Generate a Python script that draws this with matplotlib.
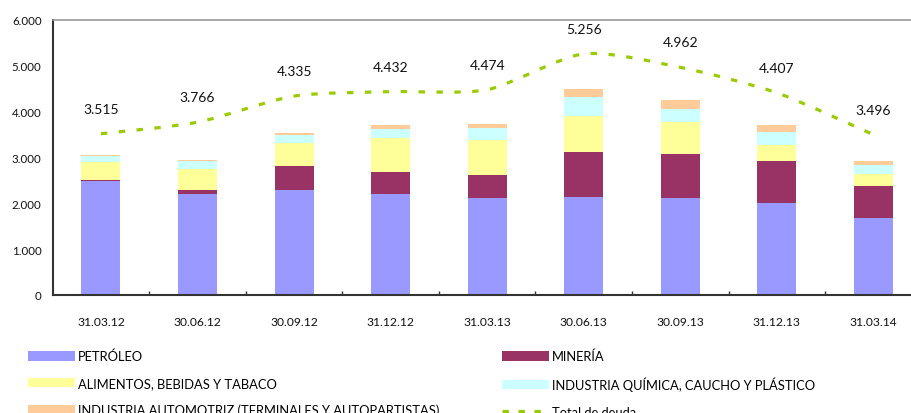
import matplotlib
matplotlib.use("Agg")
import matplotlib.pyplot as plt
from matplotlib.path import Path
from matplotlib.patches import PathPatch, Patch
from matplotlib.lines import Line2D
from matplotlib.ticker import FuncFormatter, FixedLocator
import numpy as np

plt.rcParams['font.family'] = ['Lato', 'DejaVu Sans']

categories = ["31.03.12", "30.06.12", "30.09.12", "31.12.12", "31.03.13",
              "30.06.13", "30.09.13", "31.12.13", "31.03.14"]
petroleo   = [2485, 2196, 2283, 2196, 2109, 2130, 2109, 2000, 1674]
mineria    = [15, 87, 521, 478, 500, 979, 956, 913, 696]
alimentos  = [391, 463, 508, 739, 761, 782, 696, 355, 260]
quimica    = [140, 167, 174, 203, 260, 421, 290, 283, 203]
automotriz = [20, 22, 36, 87, 87, 174, 195, 152, 80]
total      = [3515, 3766, 4335, 4432, 4474, 5256, 4962, 4407, 3496]

series = [
    ("PETRÓLEO", petroleo, "#9999FF"),
    ("MINERÍA", mineria, "#993366"),
    ("ALIMENTOS, BEBIDAS Y TABACO", alimentos, "#FFFF99"),
    ("INDUSTRIA QUÍMICA, CAUCHO Y PLÁSTICO", quimica, "#CCFFFF"),
    ("INDUSTRIA AUTOMOTRIZ (TERMINALES Y AUTOPARTISTAS)", automotriz, "#FFCC99"),
]
line_label = "Total de deuda"
line_color = "#99CC00"

W, H = 912, 414
fig = plt.figure(figsize=(W / 100, H / 100), dpi=100)
ax = fig.add_axes([52.7 / W, (H - 296) / H, (921.6 - 52.7) / W, (296 - 20.7) / H])

x = np.arange(len(categories))
bottom = np.zeros(len(categories))
handles = {}
for name, vals, col in series:
    ax.bar(x, vals, width=0.404, bottom=bottom, color=col, edgecolor='none', zorder=2)
    bottom += np.array(vals)
    handles[name] = Patch(facecolor=col, edgecolor='none', label=name)

# smoothed total line (cubic Bezier through the data points)
pts = np.column_stack([x, total]).astype(float)
verts = [tuple(pts[0])]
codes = [Path.MOVETO]
n = len(pts)
k = 1 / 8.0
for i in range(n - 1):
    p0 = pts[i - 1] if i > 0 else pts[i]
    p1 = pts[i]
    p2 = pts[i + 1]
    p3 = pts[i + 2] if i + 2 < n else pts[i + 1]
    c1 = p1 + (p2 - p0) * k
    c2 = p2 - (p3 - p1) * k
    verts += [tuple(c1), tuple(c2), tuple(p2)]
    codes += [Path.CURVE4] * 3
lw = 2.3
patch = PathPatch(Path(verts, codes), fill=False, edgecolor=line_color, lw=lw,
                  linestyle=(0, (2.0, 3.6)), zorder=3, capstyle='butt')
ax.add_patch(patch)

for xi, v in zip(x, total):
    ax.annotate(f"{v:,}".replace(",", "."), (xi, v), xytext=(0, 18),
                textcoords='offset points', ha='center', va='center',
                fontsize=10, color='#111111')

ax.set_xlim(-0.5, len(categories) - 0.5)
ax.set_ylim(0, 6000)
ax.set_yticks(np.arange(0, 6001, 1000))
ax.yaxis.set_major_formatter(FuncFormatter(lambda v, p: f"{int(v):,}".replace(",", ".")))
ax.tick_params(axis='y', length=0, pad=8, labelsize=8.3, colors='#111111')

ax.xaxis.set_major_locator(FixedLocator(np.arange(0.5, len(categories) - 0.5, 1)))
ax.xaxis.set_minor_locator(FixedLocator(x))
ax.set_xticklabels([], minor=False)
ax.set_xticks(x, minor=True)
ax.set_xticklabels(categories, minor=True)
ax.tick_params(axis='x', which='major', direction='in', length=3, width=1, color='#333333')
ax.tick_params(axis='x', which='minor', length=0, pad=15, labelsize=8.7, labelcolor='#111111')

for s in ['left', 'bottom']:
    ax.spines[s].set_color('#333333')
    ax.spines[s].set_linewidth(1.5)
ax.spines['top'].set_color('#999999')
ax.spines['top'].set_linewidth(1.2)
ax.spines['right'].set_color('#999999')

line_handle = Line2D([], [], color=line_color, lw=lw, linestyle=(0, (2.0, 3.0)))

common = dict(frameon=False, fontsize=9.3, handlelength=3.6, handleheight=0.7,
              handletextpad=0.25, labelspacing=1.12, borderpad=0, borderaxespad=0,
              loc='upper left')
leg1 = fig.legend(handles=[handles[series[0][0]], handles[series[2][0]], handles[series[4][0]]],
                  bbox_to_anchor=(28 / W, 1 - 351 / H), **common)
leg2 = fig.legend(handles=[handles[series[1][0]], handles[series[3][0]], line_handle],
                  labels=[series[1][0], series[3][0], line_label],
                  bbox_to_anchor=(502 / W, 1 - 351 / H), **common)

fig.savefig("out.png", dpi=100)
